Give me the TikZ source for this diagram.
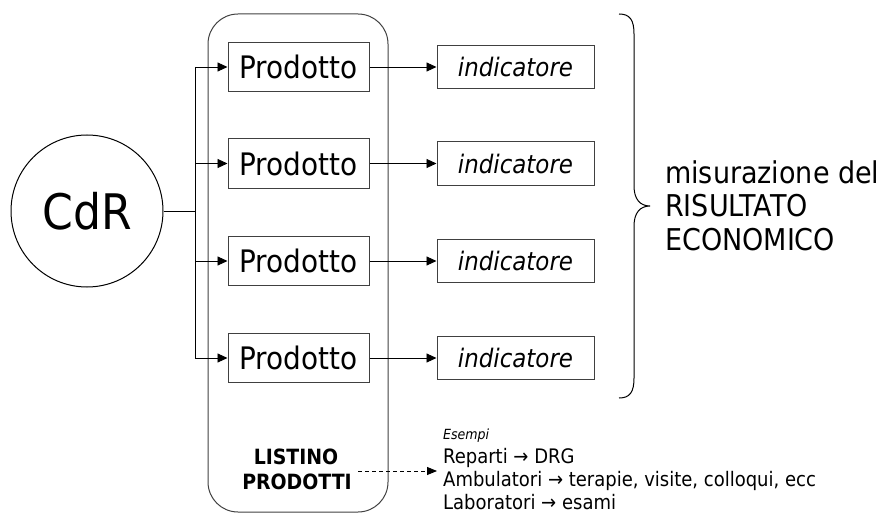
\documentclass[tikz,border=0pt]{standalone}
\usepackage{fontspec}
\setmainfont{DejaVu Sans Condensed}
\usetikzlibrary{arrows.meta}
\tikzset{
  prodbox/.style={draw=black!75, line width=1pt, minimum width=141pt, minimum height=49pt, inner sep=0pt,
    font=\fontsize{31}{36}\selectfont},
  indbox/.style={draw=black!75, line width=1pt, minimum width=157pt, minimum height=43pt, inner sep=0pt,
    font=\fontsize{25.5}{30}\selectfont\itshape},
  conn/.style={line width=0.9pt, -{Triangle[length=10pt,width=9pt]}},
  plain/.style={line width=0.9pt},
  bigtxt/.style={anchor=base west, inner sep=0pt, font=\fontsize{30}{34}\selectfont},
  smalltxt/.style={anchor=base west, inner sep=0pt, font=\fontsize{20}{22}\selectfont},
}
\begin{document}
\begin{tikzpicture}[x=1pt, y=-1pt]
\useasboundingbox (0,0) rectangle (885,513);

% price list container
\draw[line width=1pt, draw=black!75, rounded corners=30pt] (208,14) rectangle (388,512);

% cost centre
\node[draw, circle, line width=1pt, minimum size=152pt, inner sep=0pt,
      font=\fontsize{49}{56}\selectfont] (cdr) at (87,211) {CdR};

% products and indicators
\foreach \i/\y in {1/67, 2/163.5, 3/261, 4/358}{
  \node[prodbox] (p\i) at (298.5,\y) {Prodotto};
  \node[indbox] (ind\i) at (515.5,\y) {indicatore};
  \coordinate (t\i) at (195,\y);
}
\coordinate (t0) at (195,211);

% distribution trunk
\draw[plain] (cdr.east) -- (t0);
\draw[plain] (t1) -- (t4);
\foreach \i in {1,...,4}{
  \draw[conn] (t\i) -- (p\i.west);
  \draw[conn] (p\i.east) -- (ind\i.west);
}

% brace grouping the indicators
\draw[line width=1pt]
  (619,14) .. controls (630,14) and (634,20) .. (634,34) -- (634,186)
  .. controls (634,199) and (640,206) .. (650,206)
  .. controls (640,206) and (634,213) .. (634,226) -- (634,378)
  .. controls (634,392) and (630,398) .. (619,398);

\node[bigtxt] (m1) at (665,183) {misurazione del};
\node[bigtxt] (m2) at (665,216.5) {RISULTATO};
\node[bigtxt] (m3) at (665,250) {ECONOMICO};

% price list label
\node[inner sep=0pt, font=\fontsize{21}{25}\selectfont\bfseries, anchor=base] (l1) at (296,464) {LISTINO};
\node[inner sep=0pt, font=\fontsize{21}{25}\selectfont\bfseries, anchor=base] (l2) at (297,489) {PRODOTTI};

% examples
\coordinate (ds) at (358,471);
\node[anchor=base west, inner sep=0pt, font=\fontsize{14}{16}\selectfont\itshape] (ex) at (443,439) {Esempi};
\node[smalltxt] (e1) at (443,463) {Reparti → DRG};
\node[smalltxt] (e2) at (443,486) {Ambulatori → terapie, visite, colloqui, ecc};
\node[smalltxt] (e3) at (443,509) {Laboratori → esami};
\coordinate (de) at (437,471);
\draw[line width=0.9pt, dash pattern=on 4pt off 3pt, -{Triangle[length=10pt,width=8pt]}] (ds) -- (de);
\end{tikzpicture}
\end{document}
